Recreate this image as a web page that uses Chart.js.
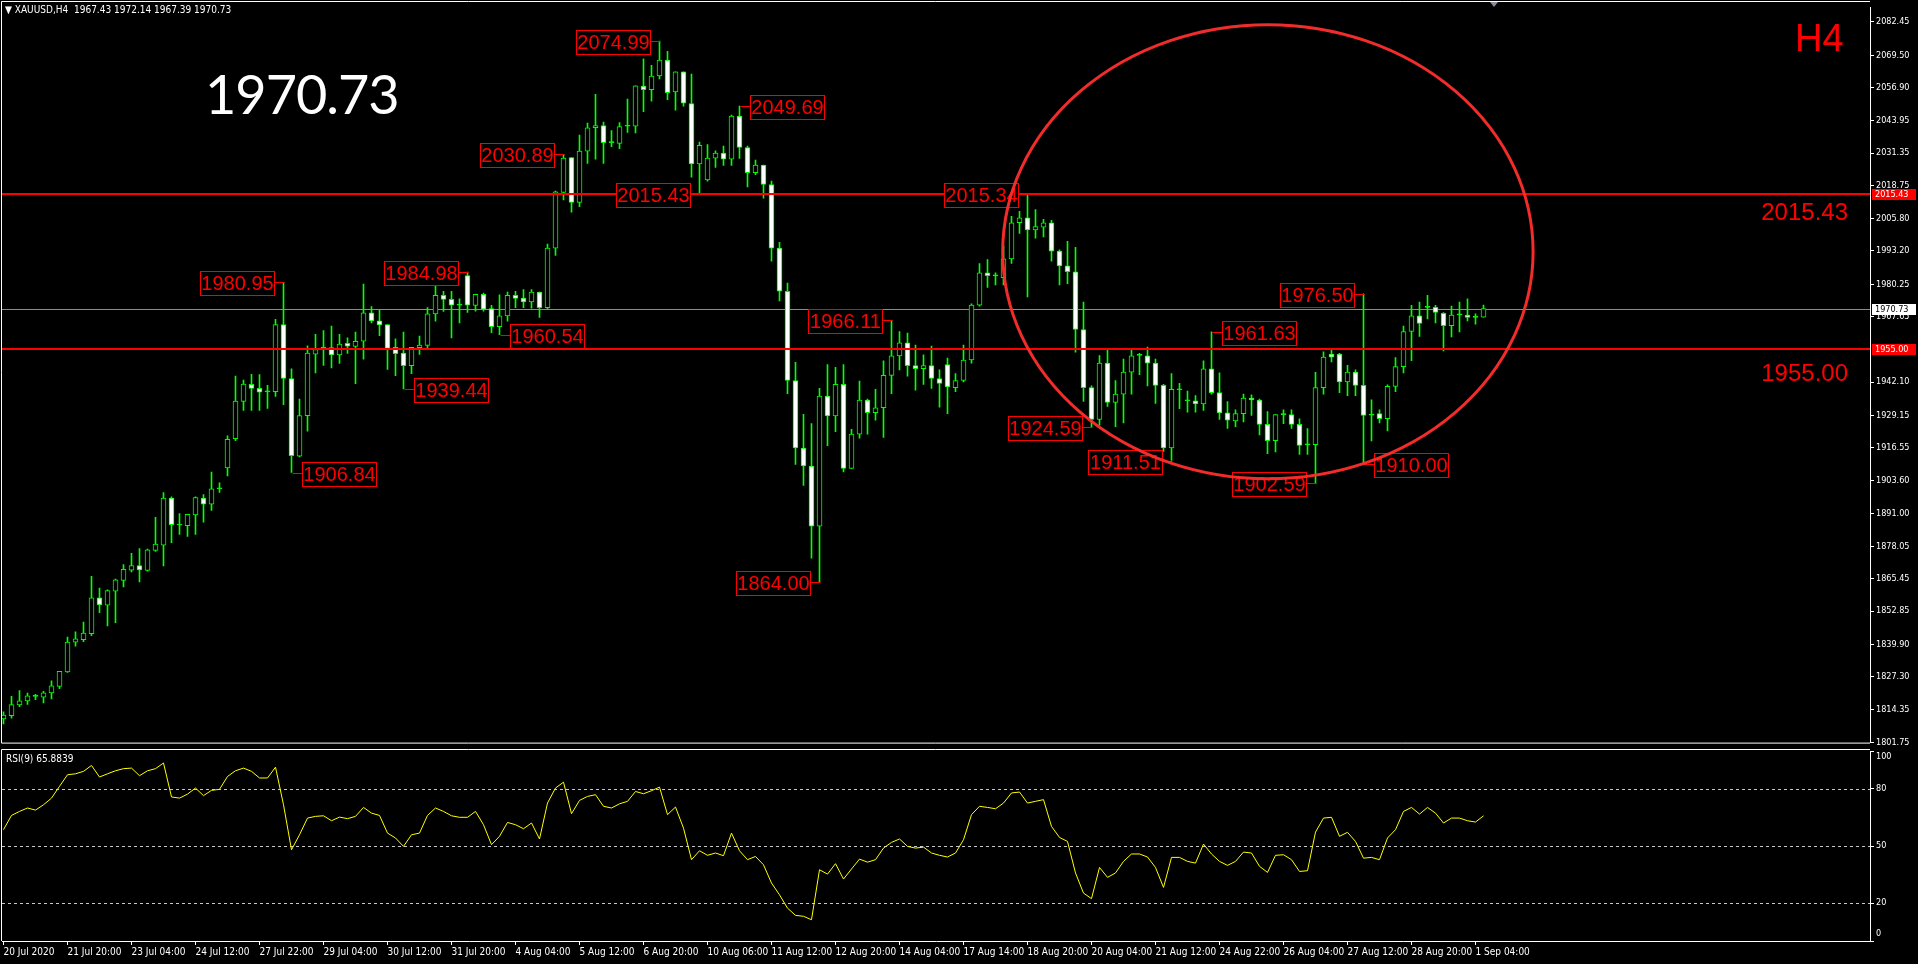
<!DOCTYPE html>
<html>
<head>
<meta charset="utf-8">
<title>XAUUSD,H4</title>
<script src="https://cdn.jsdelivr.net/npm/chart.js@4.4.1/dist/chart.umd.min.js"></script>
<style>
  html, body { margin: 0; padding: 0; background: #000; overflow: hidden; }
  body { width: 1918px; height: 964px; position: relative; }
  #mainWrap { position: absolute; left: 0; top: 0; width: 1918px; height: 750px; }
  #rsiWrap { position: absolute; left: 0; top: 749px; width: 1918px; height: 215px; }
  .txt { position: absolute; white-space: pre; line-height: 1; }
  #hdr { left: 5px; top: 4px; font: 10px "DejaVu Sans Condensed", "DejaVu Sans", sans-serif; color: #fff; }
  #bigPrice { left: 205px; top: 61px; font: 54px Lato, sans-serif; color: #fff; letter-spacing: -1px; }
  #tf { left: 1795px; top: 17px; font: 38px "Liberation Sans", Arial, sans-serif; color: #ff0000; }
  .lvl { right: 70px; font: 24px "Liberation Sans", Arial, sans-serif; color: #ff0000; }
  #rsiTitle { left: 6px; top: 753px; font: 10px "DejaVu Sans Condensed", "DejaVu Sans", sans-serif; color: #fff; }
  #shift { position: absolute; left: 1490px; top: 2px; width: 0; height: 0;
           border-left: 4px solid transparent; border-right: 4px solid transparent; border-top: 5px solid #8a8a9a; }
</style>
</head>
<body>
<div id="mainWrap"><canvas id="mainChart" width="1918" height="750"></canvas></div>
<div id="rsiWrap"><canvas id="rsiChart" width="1918" height="215"></canvas></div>
<div class="txt" id="hdr">▼ XAUUSD,H4  1967.43 1972.14 1967.39 1970.73</div>
<div class="txt" id="bigPrice">1970.73</div>
<div class="txt" id="tf">H4</div>
<div class="txt lvl" style="top:198px">2015.43</div>
<div class="txt lvl" style="top:359px">1955.00</div>
<div class="txt" id="rsiTitle">RSI(9) 65.8839</div>
<div id="shift"></div>
<script>
// XAUUSD H4 candles, 20 Jul 2020 .. 1 Sep 2020
const candleOpen = [
  1810.8, 1812.1, 1816.3, 1817.8, 1819.6, 1819.3, 1820.9, 1823.5, 1829.1, 1840.7,
  1841.7, 1844.0, 1858.0, 1855.1, 1860.6, 1864.8, 1868.8, 1870.6, 1868.7, 1876.5,
  1878.5, 1896.9, 1886.4, 1886.1, 1890.3, 1896.9, 1894.5, 1900.5, 1908.6, 1920.0,
  1934.6, 1941.2, 1939.7, 1938.3, 1938.4, 1964.5, 1943.5, 1913.2, 1929.0, 1953.0,
  1955.3, 1955.5, 1952.7, 1957.2, 1956.0, 1958.0, 1969.1, 1966.0, 1964.5, 1955.6,
  1953.4, 1948.5, 1955.5, 1956.4, 1968.7, 1975.9, 1974.3, 1972.1, 1983.6, 1972.0,
  1976.3, 1970.7, 1963.7, 1967.9, 1975.9, 1974.8, 1973.3, 1977.2, 1971.1, 1994.3,
  2016.0, 2029.6, 2012.1, 2032.1, 2041.2, 2042.1, 2035.4, 2035.1, 2041.8, 2041.8,
  2057.5, 2056.1, 2061.4, 2067.6, 2055.2, 2063.0, 2050.6, 2027.1, 2020.9, 2029.4,
  2031.3, 2029.0, 2045.8, 2033.5, 2023.7, 2026.7, 2019.1, 1994.3, 1977.5, 1942.7,
  1916.4, 1909.4, 1885.9, 1936.6, 1928.9, 1941.2, 1908.4, 1921.8, 1935.1, 1930.2,
  1932.1, 1944.7, 1952.3, 1957.4, 1948.5, 1947.3, 1948.5, 1943.5, 1948.9, 1939.9,
  1942.7, 1950.7, 1972.1, 1984.7, 1983.5, 1982.8, 1990.1, 2004.2, 2006.1, 2001.4,
  2002.5, 2004.2, 1993.1, 1987.4, 1985.1, 1962.6, 1939.9, 1927.5, 1949.5, 1934.2,
  1937.4, 1946.0, 1952.5, 1952.3, 1949.5, 1940.8, 1916.4, 1939.1, 1934.8, 1934.8,
  1933.6, 1947.3, 1938.0, 1930.1, 1927.0, 1929.8, 1935.9, 1935.1, 1925.6, 1919.3,
  1929.4, 1929.4, 1925.6, 1917.6, 1917.7, 1939.9, 1953.0, 1953.0, 1942.2, 1946.0,
  1940.8, 1929.4, 1929.8, 1927.8, 1940.4, 1948.1, 1961.8, 1967.9, 1971.2, 1971.2,
  1968.9, 1964.1, 1968.3, 1968.2, 1967.3, 1967.43
];
const candleHigh = [
  1813.6, 1819.6, 1821.9, 1820.9, 1820.4, 1821.6, 1825.7, 1829.4, 1842.7, 1844.8,
  1848.6, 1866.4, 1861.8, 1861.1, 1865.3, 1871.0, 1875.3, 1877.2, 1877.0, 1889.4,
  1899.0, 1897.4, 1890.8, 1890.5, 1897.4, 1898.2, 1907.0, 1902.8, 1921.1, 1944.4,
  1942.9, 1945.1, 1945.0, 1940.8, 1966.5, 1980.95, 1947.3, 1935.5, 1956.2, 1960.7,
  1962.2, 1963.9, 1960.7, 1959.3, 1961.6, 1980.3, 1971.5, 1970.1, 1964.5, 1958.9,
  1961.6, 1955.6, 1960.0, 1971.1, 1982.2, 1977.5, 1977.5, 1974.5, 1984.98, 1976.3,
  1976.8, 1972.0, 1976.1, 1977.2, 1977.5, 1978.1, 1978.1, 1977.2, 1995.9, 2016.5,
  2030.89, 2029.6, 2038.4, 2043.0, 2054.2, 2043.4, 2040.1, 2043.2, 2052.4, 2057.6,
  2068.1, 2065.5, 2074.99, 2071.0, 2063.0, 2063.0, 2062.1, 2035.6, 2034.7, 2032.2,
  2034.1, 2046.2, 2049.69, 2034.1, 2028.6, 2026.7, 2020.4, 1996.6, 1980.7, 1949.8,
  1929.5, 1925.9, 1939.7, 1948.9, 1947.8, 1948.9, 1923.7, 1942.5, 1935.5, 1939.3,
  1950.4, 1966.11, 1961.8, 1961.2, 1956.5, 1952.7, 1956.1, 1946.9, 1951.4, 1945.4,
  1956.5, 1972.6, 1988.3, 1989.8, 1984.7, 1995.0, 2006.7, 2008.6, 2015.34, 2009.3,
  2005.5, 2005.1, 1993.6, 1996.9, 1994.6, 1973.3, 1940.6, 1952.4, 1954.6, 1942.7,
  1951.1, 1954.6, 1953.3, 1955.7, 1951.1, 1941.2, 1945.4, 1941.6, 1938.6, 1936.8,
  1950.4, 1961.63, 1945.7, 1934.5, 1931.3, 1937.4, 1937.1, 1935.5, 1930.6, 1929.4,
  1931.3, 1931.3, 1927.8, 1924.0, 1945.9, 1953.9, 1954.6, 1953.3, 1948.6, 1946.9,
  1976.50, 1935.2, 1931.3, 1941.0, 1951.6, 1963.9, 1972.0, 1973.3, 1975.9, 1972.0,
  1969.2, 1971.7, 1973.3, 1974.5, 1968.7, 1972.14
];
const candleLow = [
  1808.9, 1811.1, 1815.6, 1816.5, 1818.3, 1817.0, 1818.6, 1822.6, 1828.9, 1839.2,
  1840.9, 1843.3, 1852.2, 1847.1, 1848.3, 1862.3, 1868.1, 1864.2, 1868.4, 1876.1,
  1870.4, 1879.5, 1882.7, 1881.9, 1882.7, 1887.5, 1892.1, 1899.1, 1905.5, 1919.3,
  1931.0, 1931.0, 1931.0, 1931.8, 1936.5, 1933.3, 1906.84, 1912.9, 1923.0, 1945.7,
  1948.6, 1947.6, 1949.4, 1953.3, 1941.5, 1951.0, 1965.1, 1960.2, 1947.0, 1944.6,
  1939.44, 1945.4, 1952.9, 1955.2, 1965.8, 1969.6, 1959.3, 1965.1, 1969.2, 1969.7,
  1969.7, 1961.3, 1960.54, 1965.8, 1971.1, 1971.1, 1970.9, 1967.3, 1970.7, 1991.5,
  2013.1, 2008.3, 2010.5, 2027.3, 2029.0, 2027.3, 2033.8, 2033.1, 2039.4, 2039.2,
  2047.5, 2051.6, 2060.2, 2052.2, 2048.1, 2049.6, 2022.0, 2015.43, 2020.4, 2025.8,
  2026.5, 2026.5, 2029.3, 2018.2, 2022.9, 2013.8, 1989.2, 1973.7, 1937.6, 1910.0,
  1901.8, 1873.5, 1864.00, 1917.3, 1922.8, 1907.1, 1908.4, 1920.2, 1921.8, 1927.2,
  1920.5, 1937.6, 1946.8, 1944.4, 1938.9, 1941.2, 1939.6, 1932.3, 1929.8, 1938.4,
  1942.2, 1949.5, 1971.7, 1979.0, 1980.0, 1980.0, 1988.3, 2000.0, 1975.3, 1998.2,
  1998.7, 1989.2, 1980.0, 1980.4, 1953.7, 1934.6, 1924.59, 1925.3, 1932.6, 1924.7,
  1926.2, 1937.4, 1945.0, 1940.6, 1933.8, 1915.1, 1911.51, 1931.7, 1930.4, 1930.4,
  1931.0, 1937.4, 1927.5, 1924.0, 1924.7, 1926.6, 1929.1, 1921.5, 1914.2, 1914.9,
  1925.9, 1924.0, 1913.9, 1913.9, 1902.59, 1937.4, 1949.9, 1938.0, 1936.8, 1936.8,
  1910.00, 1919.2, 1926.2, 1923.1, 1938.4, 1945.7, 1950.4, 1959.9, 1966.7, 1965.1,
  1954.2, 1959.7, 1961.6, 1965.9, 1964.7, 1967.39
];
const candleClose = [
  1812.3, 1816.4, 1817.9, 1819.8, 1819.7, 1821.0, 1823.7, 1829.4, 1840.8, 1842.0,
  1844.3, 1858.0, 1855.2, 1860.8, 1865.0, 1869.1, 1870.6, 1868.9, 1876.7, 1879.0,
  1896.9, 1886.5, 1886.6, 1890.5, 1897.1, 1894.5, 1900.5, 1900.7, 1919.8, 1934.7,
  1941.3, 1939.6, 1938.2, 1938.5, 1964.5, 1943.5, 1913.4, 1929.0, 1953.4, 1954.8,
  1955.5, 1952.7, 1956.9, 1956.1, 1958.0, 1969.1, 1965.9, 1964.4, 1955.2, 1953.2,
  1948.5, 1955.6, 1956.5, 1968.7, 1975.9, 1974.3, 1972.1, 1972.2, 1972.1, 1976.3,
  1970.5, 1963.7, 1967.9, 1975.9, 1974.7, 1973.3, 1977.2, 1971.1, 1994.3, 2016.2,
  2029.4, 2012.1, 2032.1, 2041.2, 2042.1, 2035.4, 2035.6, 2041.7, 2041.9, 2057.6,
  2056.1, 2061.4, 2067.6, 2054.9, 2063.0, 2050.8, 2027.1, 2034.4, 2029.4, 2031.3,
  2029.0, 2045.8, 2033.5, 2023.7, 2026.7, 2019.1, 1994.3, 1977.5, 1942.7, 1916.4,
  1909.4, 1885.9, 1936.6, 1928.9, 1941.2, 1908.4, 1921.8, 1935.1, 1930.2, 1932.1,
  1944.7, 1952.3, 1957.4, 1948.5, 1947.3, 1948.5, 1943.5, 1941.6, 1940.2, 1942.7,
  1950.7, 1972.1, 1984.7, 1983.6, 1983.6, 1990.1, 2004.2, 2006.1, 2001.4, 2002.7,
  2004.2, 1993.1, 1987.4, 1985.1, 1962.6, 1939.9, 1927.5, 1949.5, 1934.2, 1937.4,
  1946.0, 1952.3, 1952.7, 1949.5, 1940.8, 1916.4, 1939.3, 1939.2, 1934.9, 1933.6,
  1947.3, 1938.0, 1930.1, 1927.2, 1929.8, 1935.9, 1935.1, 1925.6, 1919.3, 1929.4,
  1929.5, 1925.6, 1917.4, 1917.7, 1939.9, 1951.8, 1951.8, 1942.2, 1946.0, 1940.8,
  1929.1, 1929.2, 1927.8, 1940.4, 1948.1, 1961.8, 1967.9, 1965.0, 1971.3, 1969.2,
  1964.1, 1968.2, 1968.4, 1967.3, 1967.4, 1970.73
];
// RSI(9)
const rsiValues = [
  58.6, 66.1, 68.2, 70.0, 68.9, 71.7, 75.2, 81.4, 87.5, 88.0,
  89.3, 92.4, 86.3, 88.0, 89.6, 90.7, 91.0, 87.0, 89.6, 90.7,
  93.7, 75.8, 75.2, 77.3, 80.5, 76.5, 79.3, 79.8, 86.6, 89.6,
  91.0, 89.3, 85.8, 85.8, 91.5, 71.7, 48.0, 55.9, 64.7, 65.6,
  65.9, 63.3, 65.2, 64.4, 65.6, 70.3, 67.3, 66.1, 56.8, 54.2,
  49.8, 55.9, 56.8, 66.1, 70.0, 68.2, 65.9, 65.1, 65.1, 68.2,
  61.2, 50.7, 55.1, 62.4, 61.2, 59.1, 62.1, 53.7, 72.6, 80.5,
  83.6, 67.0, 74.0, 76.1, 77.0, 70.9, 70.0, 72.2, 73.5, 78.7,
  77.5, 79.1, 81.0, 66.5, 70.5, 59.4, 42.8, 47.5, 45.1, 46.3,
  44.9, 56.8, 47.5, 42.8, 44.5, 40.1, 30.5, 24.3, 17.3, 13.5,
  13.0, 11.2, 37.5, 35.2, 40.7, 32.6, 37.9, 43.1, 41.5, 42.8,
  48.9, 51.9, 53.7, 49.8, 48.9, 49.4, 46.3, 45.1, 44.2, 46.3,
  53.3, 66.5, 70.9, 70.3, 69.6, 72.6, 77.9, 78.4, 72.6, 73.5,
  74.4, 60.3, 54.5, 52.4, 35.8, 25.2, 22.3, 38.7, 33.5, 35.8,
  41.9, 45.8, 45.8, 44.2, 38.7, 28.2, 44.0, 44.0, 41.9, 41.0,
  51.0, 45.8, 41.9, 39.8, 41.9, 46.8, 46.3, 39.3, 36.1, 45.1,
  45.4, 42.8, 36.6, 37.0, 57.3, 64.7, 65.1, 55.1, 57.2, 52.4,
  43.6, 44.0, 42.8, 54.2, 58.6, 68.2, 70.3, 66.8, 70.3, 67.3,
  62.1, 64.7, 64.7, 63.3, 62.6, 65.88
];

const priceTicks = [
  2082.45, 2069.50, 2056.90, 2043.95, 2031.35, 2018.75, 2005.80, 1993.20, 1980.25, 1967.65,
  1942.10, 1929.15, 1916.55, 1903.60, 1891.00, 1878.05, 1865.45, 1852.85, 1839.90, 1827.30,
  1814.35, 1801.75
];
const rsiTicks = [0, 20, 50, 80, 100];
const rsiLevels = [20, 50, 80];
const timeTickIdx = [0, 8, 16, 24, 32, 40, 48, 56, 64, 72, 80, 88, 96, 104, 112, 120, 128, 136, 144, 152, 160, 168, 176, 184];
const timeTickLabels = [
  '20 Jul 2020', '21 Jul 20:00', '23 Jul 04:00', '24 Jul 12:00', '27 Jul 22:00', '29 Jul 04:00',
  '30 Jul 12:00', '31 Jul 20:00', '4 Aug 04:00', '5 Aug 12:00', '6 Aug 20:00', '10 Aug 06:00',
  '11 Aug 12:00', '12 Aug 20:00', '14 Aug 04:00', '17 Aug 14:00', '18 Aug 20:00', '20 Aug 04:00',
  '21 Aug 12:00', '24 Aug 22:00', '26 Aug 04:00', '27 Aug 12:00', '28 Aug 20:00', '1 Sep 04:00'
];

// horizontal lines
const levelPrices = [2015.43, 1955.00];
const bidPrice = 1970.73;

// swing labels: candle index, price, side of the box
const markIdx = [35, 36, 50, 58, 62, 70, 82, 87, 92, 102, 111, 128, 136, 146, 151, 164, 170, 170];
const markPrice = [1980.95, 1906.84, 1939.44, 1984.98, 1960.54, 2030.89, 2074.99, 2015.43, 2049.69,
  1864.00, 1966.11, 2015.34, 1924.59, 1911.51, 1961.63, 1902.59, 1976.50, 1910.00];
const markSide = ['L', 'R', 'R', 'L', 'R', 'L', 'L', 'L', 'R', 'L', 'L', 'L', 'L', 'L', 'R', 'L', 'L', 'R'];

// drawn circle (in candle index / price units)
const ringIdx = 158.05, ringPrice = 1992.9, ringRadIdx = 33.15, ringRadPrice = 88.5;

const GREEN = '#00ff00';
const RED = '#ff0000';
const AXIS_FONT = '"DejaVu Sans Condensed", "DejaVu Sans", sans-serif';
const X_MIN = -0.1875, X_MAX = 233.3125;

Chart.defaults.color = '#fff';
Chart.defaults.font.family = AXIS_FONT;

const idx = candleClose.map((_, i) => i);
const wickData = idx.map(i => ({ x: i, y: [candleLow[i], candleHigh[i]] }));
const bodyData = idx.map(i => ({ x: i, y: [candleOpen[i], candleClose[i]] }));
const bodyFill = idx.map(i => {
  const d = candleClose[i] - candleOpen[i];
  if (Math.abs(d) < 0.35) return GREEN;
  return d > 0 ? '#000000' : '#ffffff';
});

function hline(ctx, a, py, color, w) {
  ctx.strokeStyle = color;
  ctx.lineWidth = w;
  ctx.beginPath();
  ctx.moveTo(a.left, py);
  ctx.lineTo(a.right, py);
  ctx.stroke();
}

const mainOverlay = {
  id: 'mainOverlay',
  beforeDatasetsDraw(chart) {
    const { ctx, chartArea: a, scales: { y } } = chart;
    ctx.save();
    hline(ctx, a, Math.round(y.getPixelForValue(bidPrice)) + 0.5, '#8c8c8c', 1);
    ctx.restore();
  },
  afterDatasetsDraw(chart) {
    const { ctx, chartArea: a, scales: { x, y } } = chart;
    ctx.save();
    levelPrices.forEach(p => hline(ctx, a, Math.round(y.getPixelForValue(p)), RED, 2));

    // swing labels
    ctx.font = '20px "Liberation Sans", Arial, sans-serif';
    ctx.textAlign = 'center';
    ctx.textBaseline = 'middle';
    ctx.lineWidth = 1;
    const w = 74, h = 24, gap = 10;
    markIdx.forEach((mi, k) => {
      const cx = x.getPixelForValue(mi);
      const py = Math.round(y.getPixelForValue(markPrice[k])) + 0.5;
      const left = Math.round(markSide[k] === 'L' ? cx - gap - w : cx + gap) + 0.5;
      const top = Math.round(py - h / 2);
      ctx.fillStyle = '#000';
      ctx.fillRect(left, top, w, h);
      ctx.strokeStyle = RED;
      ctx.strokeRect(left, top + 0.5, w, h);
      ctx.beginPath();
      const edge = markSide[k] === 'L' ? left + w : left;
      ctx.moveTo(edge, py);
      ctx.lineTo(Math.round(cx) + 0.5, py);
      ctx.stroke();
      ctx.fillStyle = RED;
      ctx.fillText(markPrice[k].toFixed(2), left + w / 2, py + 1.5);
    });

    // circle
    const ex = x.getPixelForValue(ringIdx), ey = y.getPixelForValue(ringPrice);
    const rx = Math.abs(x.getPixelForValue(ringIdx + ringRadIdx) - ex);
    const ry = Math.abs(y.getPixelForValue(ringPrice + ringRadPrice) - ey);
    ctx.strokeStyle = 'rgba(255,45,45,0.95)';
    ctx.lineWidth = 3;
    ctx.beginPath();
    ctx.ellipse(ex, ey, rx, ry, 0, 0, Math.PI * 2);
    ctx.stroke();
    ctx.restore();
  },
  afterDraw(chart) {
    const { ctx, chartArea: a, scales: { y } } = chart;
    ctx.save();
    ctx.strokeStyle = '#fff';
    ctx.lineWidth = 1;
    ctx.beginPath();
    ctx.moveTo(1.5, a.bottom + 0.5);
    ctx.lineTo(1.5, 1.5);
    ctx.lineTo(a.right, 1.5);
    ctx.moveTo(1.5, a.bottom + 0.5);
    ctx.lineTo(a.right, a.bottom + 0.5);
    ctx.stroke();

    // price markers on the axis
    ctx.font = '9px ' + AXIS_FONT;
    ctx.textAlign = 'left';
    ctx.textBaseline = 'middle';
    const marks = levelPrices.map(p => [p, RED, '#ffffff']).concat([[bidPrice, '#ffffff', '#000000']]);
    marks.forEach(([p, bg, fg]) => {
      const py = Math.round(y.getPixelForValue(p));
      ctx.fillStyle = bg;
      ctx.fillRect(a.right + 2, py - 5, 44, 11);
      ctx.fillStyle = fg;
      ctx.fillText(p.toFixed(2), a.right + 5, py + 0.5);
    });
    ctx.restore();
  }
};

new Chart(document.getElementById('mainChart'), {
  type: 'bar',
  data: {
    datasets: [
      { data: wickData, backgroundColor: GREEN, barThickness: 1, grouped: false, order: 2 },
      {
        data: bodyData, backgroundColor: bodyFill, borderColor: GREEN, borderWidth: 1,
        borderSkipped: false, barThickness: 5, minBarLength: 1, grouped: false, order: 1
      }
    ]
  },
  options: {
    responsive: false,
    animation: false,
    devicePixelRatio: 1,
    layout: { padding: { left: 2, top: 2, right: 0, bottom: 3 } },
    plugins: { legend: { display: false }, tooltip: { enabled: false } },
    scales: {
      x: { type: 'linear', min: X_MIN, max: X_MAX, offset: false, display: false },
      y: {
        position: 'right',
        min: 1801.58,
        max: 2088.12,
        afterBuildTicks: s => { s.ticks = priceTicks.map(v => ({ value: v })); },
        afterFit: s => { s.width = 48; },
        ticks: { color: '#fff', font: { size: 9 }, padding: 2, callback: v => Number(v).toFixed(2) },
        grid: { drawOnChartArea: false, color: '#fff', tickLength: 4 },
        border: { color: '#fff', width: 1 }
      }
    }
  },
  plugins: [mainOverlay]
});

const rsiOverlay = {
  id: 'rsiOverlay',
  beforeDatasetsDraw(chart) {
    const { ctx, chartArea: a, scales: { y } } = chart;
    ctx.save();
    ctx.setLineDash([3, 3]);
    rsiLevels.forEach(v => hline(ctx, a, Math.round(y.getPixelForValue(v)) + 0.5, '#c8c8c8', 1));
    ctx.restore();
  },
  afterDraw(chart) {
    const { ctx, chartArea: a, scales: { y } } = chart;
    ctx.save();
    ctx.strokeStyle = '#fff';
    ctx.lineWidth = 1;
    ctx.beginPath();
    ctx.moveTo(1.5, a.bottom);
    ctx.lineTo(1.5, 0.5);
    ctx.lineTo(a.right, 0.5);
    ctx.stroke();
    ctx.fillStyle = '#fff';
    ctx.font = '9px ' + AXIS_FONT;
    ctx.textAlign = 'left';
    ctx.textBaseline = 'middle';
    rsiTicks.forEach(v => {
      const py = Math.min(Math.max(y.getPixelForValue(v), a.top + 6), a.bottom - 7);
      ctx.fillText(String(v), a.right + 6, py);
    });
    ctx.restore();
  }
};

new Chart(document.getElementById('rsiChart'), {
  type: 'line',
  data: {
    datasets: [{
      data: idx.map(i => ({ x: i, y: rsiValues[i] })),
      borderColor: '#ffff00', borderWidth: 1, pointRadius: 0, tension: 0
    }]
  },
  options: {
    responsive: false,
    animation: false,
    devicePixelRatio: 1,
    layout: { padding: { left: 2, top: 2, right: 0, bottom: 0 } },
    plugins: { legend: { display: false }, tooltip: { enabled: false } },
    scales: {
      x: {
        type: 'linear', min: X_MIN, max: X_MAX, offset: false, position: 'bottom',
        afterBuildTicks: s => { s.ticks = timeTickIdx.map(v => ({ value: v })); },
        afterFit: s => { s.height = 23; },
        ticks: {
          color: '#fff', font: { size: 10 }, autoSkip: false, maxRotation: 0, minRotation: 0,
          align: 'start', padding: 1,
          callback: (v, i) => timeTickLabels[i]
        },
        grid: { drawOnChartArea: false, color: '#fff', tickLength: 4 },
        border: { color: '#fff', width: 1 }
      },
      y: {
        position: 'right', min: 0, max: 100,
        afterBuildTicks: s => { s.ticks = rsiTicks.map(v => ({ value: v })); },
        afterFit: s => { s.width = 48; },
        ticks: { display: false },
        grid: { drawOnChartArea: false, color: '#fff', tickLength: 4 },
        border: { color: '#fff', width: 1 }
      }
    }
  },
  plugins: [rsiOverlay]
});
</script>
</body>
</html>
